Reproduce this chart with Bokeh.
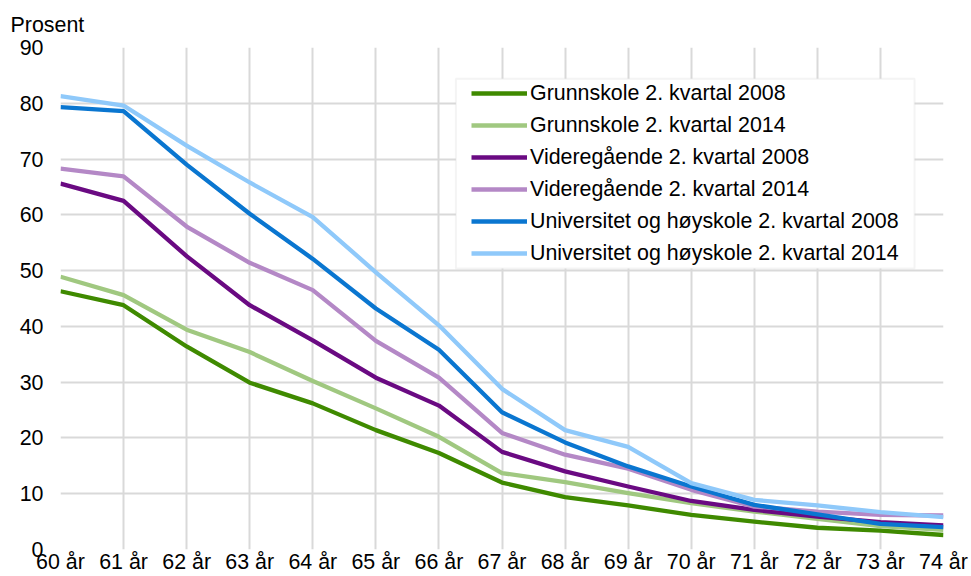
from bokeh.plotting import figure
from bokeh.models import Range1d, FixedTicker, Legend, LegendItem, BoxAnnotation
from bokeh.embed import file_html
from bokeh.resources import INLINE

ages = list(range(60, 75))
age_labels = [f"{a} år" for a in ages]
y_ticks = list(range(0, 100, 10))

grunn_2008 = [46.3, 43.8, 36.4, 29.9, 26.2, 21.4, 17.3, 12.0, 9.4, 7.9, 6.2, 5.0, 3.9, 3.4, 2.6]
grunn_2014 = [48.9, 45.6, 39.4, 35.4, 30.2, 25.3, 20.2, 13.7, 12.1, 10.1, 8.3, 6.8, 5.5, 4.2, 3.5]
vid_2008 = [65.6, 62.5, 52.6, 43.8, 37.5, 30.8, 25.8, 17.5, 14.0, 11.3, 8.7, 7.1, 5.9, 4.9, 4.3]
vid_2014 = [68.3, 66.9, 57.9, 51.4, 46.5, 37.4, 30.8, 20.9, 17.0, 14.5, 10.7, 7.7, 6.8, 6.2, 6.1]
uni_2008 = [79.3, 78.6, 69.0, 60.2, 52.1, 43.2, 35.8, 24.6, 19.2, 14.9, 11.3, 8.0, 6.3, 4.6, 4.0]
uni_2014 = [81.3, 79.6, 72.4, 65.8, 59.6, 49.7, 40.2, 28.8, 21.4, 18.4, 11.9, 8.9, 7.9, 6.7, 5.8]

series = [
    ("Grunnskole 2. kvartal 2008", grunn_2008, "#3f8a00"),
    ("Grunnskole 2. kvartal 2014", grunn_2014, "#a0c880"),
    ("Videregående 2. kvartal 2008", vid_2008, "#6a0a82"),
    ("Videregående 2. kvartal 2014", vid_2014, "#b488c6"),
    ("Universitet og høyskole 2. kvartal 2008", uni_2008, "#0a76d0"),
    ("Universitet og høyskole 2. kvartal 2014", uni_2014, "#8fc9fa"),
]

FONT = "Liberation Sans"
FS = "21.4px"

p = figure(width=971, height=576, output_backend="svg", toolbar_location=None,
           x_range=Range1d(60, 74), y_range=Range1d(0, 90),
           min_border_left=60, min_border_right=28, min_border_top=47, min_border_bottom=26)
p.outline_line_color = None
p.background_fill_color = "white"
p.border_fill_color = "white"

p.title.text = "Prosent"
p.title.text_font = FONT
p.title.text_font_size = FS
p.title.text_font_style = "normal"
p.title.text_color = "#000000"
p.title.align = "left"
p.title.offset = -50
p.title.standoff = 21

p.xaxis.ticker = FixedTicker(ticks=ages)
p.xaxis.major_label_overrides = {a: lab for a, lab in zip(ages, age_labels)}
p.yaxis.ticker = FixedTicker(ticks=y_ticks)
for ax in (p.xaxis, p.yaxis):
    ax.axis_line_color = None
    ax.major_tick_line_color = None
    ax.minor_tick_line_color = None
    ax.major_tick_out = 0
    ax.major_tick_in = 0
    ax.major_label_text_font = FONT
    ax.major_label_text_font_size = FS
    ax.major_label_text_color = "#000000"
p.xaxis.major_label_standoff = 0
p.yaxis.major_label_standoff = 17

p.xgrid.ticker = FixedTicker(ticks=ages)
p.ygrid.ticker = FixedTicker(ticks=y_ticks)
for g in (p.xgrid, p.ygrid):
    g.grid_line_color = "#d9d9d9"
    g.grid_line_width = 2

items = []
for name, vals, col in series:
    r = p.line(ages, vals, line_color=col, line_width=4.3, line_join="round")
    items.append(LegendItem(label=name, renderers=[r]))

box = BoxAnnotation(left=66.27, right=73.54, top=84.4, bottom=50.36,
                    fill_color="white", fill_alpha=1.0,
                    line_color="#d9d9d9", line_width=2)
p.add_layout(box)

legend = Legend(items=items, location=(411, 283), padding=0, margin=0,
                spacing=6, glyph_height=26, label_height=26, glyph_width=56,
                label_standoff=3, border_line_color=None, background_fill_alpha=0,
                label_text_font=FONT, label_text_font_size=FS, label_text_color="#000000")
p.add_layout(legend)

open("out.html", "w").write(file_html(p, INLINE))
